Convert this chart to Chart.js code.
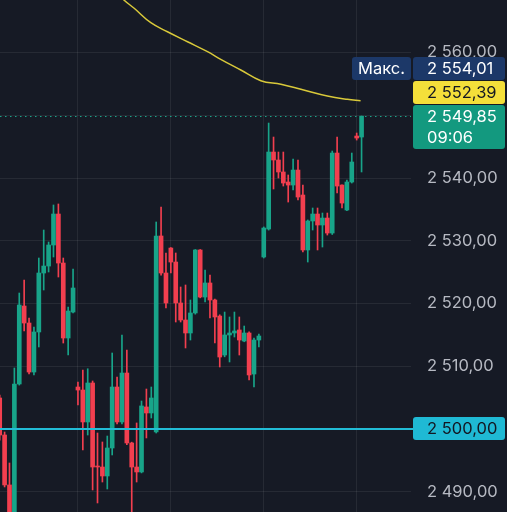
<!DOCTYPE html>
<html>
<head>
<meta charset="utf-8">
<script src="https://cdn.jsdelivr.net/npm/chart.js@4.4.1/dist/chart.umd.min.js"></script>
<style>
  html, body { margin: 0; padding: 0; background: #161a25; }
  #wrap { width: 507px; height: 512px; }
</style>
</head>
<body>
<div id="wrap"><canvas id="chart"></canvas></div>
<script>
// candles, oldest first
const opens = [
  2504.94, 2499.04, 2491.08, 2485.80, 2507.17, 2519.60, 2516.89, 2509.08, 2515.46, 2524.86,
  2525.97, 2529.32, 2534.26, 2526.45, 2514.50, 2518.64, 2506.69, 2506.21, 2501.12, 2507.33,
  2494.10, 2493.94, 2492.51, 2496.97, 2506.69, 2501.12, 2508.92, 2497.77, 2493.94, 2493.15,
  2503.51, 2502.55, 2499.52, 2530.76, 2524.86, 2528.84, 2526.61, 2520.08, 2517.37, 2515.30,
  2518.49, 2528.53, 2521.03, 2523.27, 2520.56, 2518.00, 2511.79, 2514.98, 2515.30, 2515.78,
  2514.02, 2515.30, 2508.76, 2514.18, 2527.41, 2531.87, 2544.14, 2542.87, 2540.96, 2539.36,
  2538.88, 2541.27, 2537.29, 2528.53, 2533.15, 2534.26, 2532.51, 2533.62, 2531.23, 2543.98,
  2538.88, 2534.90, 2539.36, 2546.69, 2546.53
];
const highs = [
  2505.40, 2499.52, 2494.58, 2509.72, 2521.67, 2523.74, 2517.69, 2516.25, 2527.25, 2531.71,
  2529.80, 2535.70, 2535.86, 2527.25, 2519.44, 2525.50, 2507.49, 2509.40, 2509.60, 2507.65,
  2499.36, 2497.93, 2498.88, 2512.11, 2508.29, 2514.98, 2512.59, 2497.90, 2500.96, 2504.46,
  2506.37, 2506.69, 2532.99, 2535.38, 2528.05, 2528.90, 2528.05, 2522.63, 2522.95, 2520.56,
  2528.60, 2528.60, 2525.34, 2524.54, 2520.70, 2518.20, 2518.64, 2517.85, 2518.64, 2517.85,
  2516.41, 2515.50, 2514.50, 2515.14, 2532.20, 2548.76, 2546.53, 2544.14, 2544.14, 2540.48,
  2543.03, 2542.87, 2538.88, 2533.31, 2535.22, 2535.22, 2534.42, 2534.42, 2544.30, 2546.53,
  2538.90, 2539.68, 2543.98, 2547.17, 2549.88
];
const lows = [
  2498.20, 2490.76, 2485.20, 2485.00, 2507.00, 2515.62, 2508.76, 2508.60, 2513.07, 2522.15,
  2525.02, 2527.41, 2524.22, 2513.70, 2511.79, 2518.50, 2503.82, 2496.65, 2499.04, 2490.28,
  2488.21, 2491.55, 2490.44, 2495.86, 2500.80, 2500.80, 2497.50, 2486.00, 2491.55, 2493.00,
  2498.57, 2501.75, 2499.36, 2524.50, 2519.28, 2524.86, 2517.05, 2517.05, 2512.91, 2514.18,
  2518.30, 2520.90, 2520.24, 2517.69, 2513.70, 2509.88, 2511.50, 2510.68, 2514.66, 2511.79,
  2513.90, 2507.81, 2506.69, 2513.07, 2527.25, 2531.70, 2538.25, 2540.00, 2538.72, 2536.17,
  2538.09, 2536.49, 2528.21, 2526.61, 2531.71, 2528.53, 2529.00, 2530.91, 2531.00, 2537.61,
  2535.22, 2534.80, 2539.20, 2546.05, 2540.96
];
const closes = [
  2499.04, 2491.08, 2485.80, 2507.17, 2519.76, 2516.89, 2509.08, 2515.46, 2524.86, 2525.97,
  2529.32, 2534.26, 2526.45, 2514.50, 2518.80, 2522.47, 2506.21, 2501.12, 2507.33, 2493.94,
  2493.94, 2492.51, 2496.97, 2506.69, 2501.12, 2508.92, 2497.77, 2493.94, 2493.15, 2503.67,
  2502.55, 2504.94, 2530.76, 2524.86, 2520.08, 2526.61, 2520.08, 2517.37, 2515.30, 2518.49,
  2528.53, 2521.03, 2523.27, 2520.56, 2517.85, 2511.47, 2514.98, 2515.30, 2515.62, 2514.18,
  2515.30, 2508.61, 2514.18, 2514.82, 2532.03, 2544.14, 2542.87, 2540.96, 2539.20, 2538.88,
  2541.27, 2536.97, 2528.53, 2533.15, 2534.26, 2532.51, 2533.62, 2531.23, 2543.98, 2538.72,
  2536.01, 2539.36, 2542.55, 2546.37, 2549.85
];

// moving average (yellow), read at candle positions
const maIdx = [24.0, 25.4, 27.5, 30.9, 34.3, 38.4, 42.5, 45.2, 49.3, 53.4, 57.5, 61.6, 67.0, 71.1, 73.8];
const maVal = [2569.6, 2568.37, 2567.05, 2564.75, 2563.31, 2561.72, 2560.13, 2558.92, 2557.21, 2555.51, 2554.93, 2554.14, 2553.07, 2552.54, 2552.32];

const yTicks = [2490, 2500, 2510, 2520, 2530, 2540, 2550, 2560];
const hiddenTicks = [2500, 2550];
const gridCandles = [16, 35, 54, 73];

const maxLabel = 'Макс.';
const maxValue = 2554.01;
const maLast = 2552.39;
const lastTime = '09:06';
const alertLevel = 2500;

const UP = '#18a489';
const DOWN = '#f23f4f';
const FONT = 'Inter, "Noto Sans", sans-serif';
const FSIZE = 16.5;

function fmt(v) {
  const s = v.toFixed(2).replace('.', ',');
  return s.replace(/^(\d)(\d{3})/, '$1 $2');
}

const colors = opens.map((o, i) => closes[i] >= o ? UP : DOWN);
const bodies = opens.map((o, i) => ({ x: i, y: [o, closes[i]] }));
const wicks = lows.map((l, i) => ({ x: i, y: [l, highs[i]] }));
const maPoints = maIdx.map((x, i) => ({ x: x, y: maVal[i] }));

function box(ctx, x, y, w, h, fill) {
  ctx.fillStyle = fill;
  ctx.beginPath();
  ctx.roundRect(x, y, w, h, 3);
  ctx.fill();
}

const overlay = {
  id: 'overlay',
  beforeDraw(chart) {
    const ctx = chart.ctx;
    ctx.save();
    ctx.fillStyle = '#161a25';
    ctx.fillRect(0, 0, chart.width, chart.height);
    ctx.restore();
  },
  afterDatasetsDraw(chart) {
    const ctx = chart.ctx;
    const ys = chart.scales.y;
    const area = chart.chartArea;
    ctx.save();
    // last price dotted line
    const yp = Math.round(ys.getPixelForValue(closes[closes.length - 1])) + 0.5;
    ctx.strokeStyle = '#1aa58a';
    ctx.lineWidth = 1;
    ctx.setLineDash([1.5, 3.5]);
    ctx.beginPath();
    ctx.moveTo(area.left, yp);
    ctx.lineTo(area.right, yp);
    ctx.stroke();
    // alert level
    ctx.setLineDash([]);
    const yl = ys.getPixelForValue(alertLevel);
    ctx.strokeStyle = '#22bcd6';
    ctx.lineWidth = 2;
    ctx.beginPath();
    ctx.moveTo(area.left, yl);
    ctx.lineTo(area.right + 2, yl);
    ctx.stroke();
    ctx.restore();
  },
  afterDraw(chart) {
    const ctx = chart.ctx;
    const ys = chart.scales.y;
    const bx = 413, bw = 92, tx = 427;
    ctx.save();
    ctx.font = FSIZE + 'px ' + FONT;
    ctx.textBaseline = 'middle';
    ctx.textAlign = 'left';

    const yc = ys.getPixelForValue(closes[closes.length - 1]);
    const gTop = Math.round(yc - 11.5);
    // last price + time
    box(ctx, bx, gTop, bw, 44, '#13997f');
    ctx.fillStyle = '#ffffff';
    ctx.fillText(fmt(closes[closes.length - 1]), tx, gTop + 12);
    ctx.fillText(lastTime, tx, gTop + 33);
    // moving average value
    box(ctx, bx, gTop - 24, bw, 23, '#f4df3a');
    ctx.fillStyle = '#131722';
    ctx.fillText(fmt(maLast), tx, gTop - 12);
    // max
    box(ctx, bx, gTop - 48, bw, 23, '#1c3868');
    box(ctx, 352, gTop - 48, 59, 23, '#1c3868');
    ctx.fillStyle = '#ffffff';
    ctx.fillText(fmt(maxValue), tx, gTop - 36);
    ctx.fillText(maxLabel, 358, gTop - 36);
    // alert level label
    const yl = ys.getPixelForValue(alertLevel);
    box(ctx, bx, Math.round(yl - 11.5), bw, 23, '#1fb9d4');
    ctx.fillStyle = '#131722';
    ctx.fillText(fmt(alertLevel), tx, yl + 0.5);
    ctx.restore();
  }
};

new Chart(document.getElementById('chart'), {
  type: 'bar',
  data: {
    datasets: [
      {
        type: 'line',
        data: maPoints,
        borderColor: '#d9c93a',
        borderWidth: 1.5,
        pointRadius: 0,
        tension: 0.4,
        order: 0,
      },
      {
        data: bodies,
        backgroundColor: colors,
        barThickness: 4,
        grouped: false,
        minBarLength: 1,
        order: 1,
      },
      {
        data: wicks,
        backgroundColor: colors,
        barThickness: 1,
        grouped: false,
        order: 2,
      },
    ],
  },
  options: {
    responsive: true,
    maintainAspectRatio: false,
    animation: false,
    layout: { padding: 0 },
    plugins: {
      legend: { display: false },
      tooltip: { enabled: false },
    },
    scales: {
      x: {
        type: 'linear',
        min: 0.06,
        max: 84.11,
        offset: false,
        afterBuildTicks: (s) => { s.ticks = gridCandles.map(v => ({ value: v })); },
        afterFit: (s) => { s.height = 0; s.paddingLeft = 0; s.paddingRight = 0; },
        ticks: { display: false },
        grid: { color: 'rgba(255,255,255,0.07)', drawTicks: false, offset: false },
        border: { display: false },
      },
      y: {
        position: 'right',
        min: 2486.77,
        max: 2568.37,
        afterBuildTicks: (s) => { s.ticks = yTicks.map(v => ({ value: v })); },
        afterFit: (s) => { s.width = 96; s.paddingTop = 0; s.paddingBottom = 0; },
        ticks: {
          padding: 16,
          color: '#b6b9c2',
          font: { family: FONT, size: FSIZE },
          callback: (v) => hiddenTicks.includes(v) ? '' : fmt(v),
        },
        grid: { color: 'rgba(255,255,255,0.07)', drawTicks: false },
        border: { display: false },
      },
    },
  },
  plugins: [overlay],
});
</script>
</body>
</html>
